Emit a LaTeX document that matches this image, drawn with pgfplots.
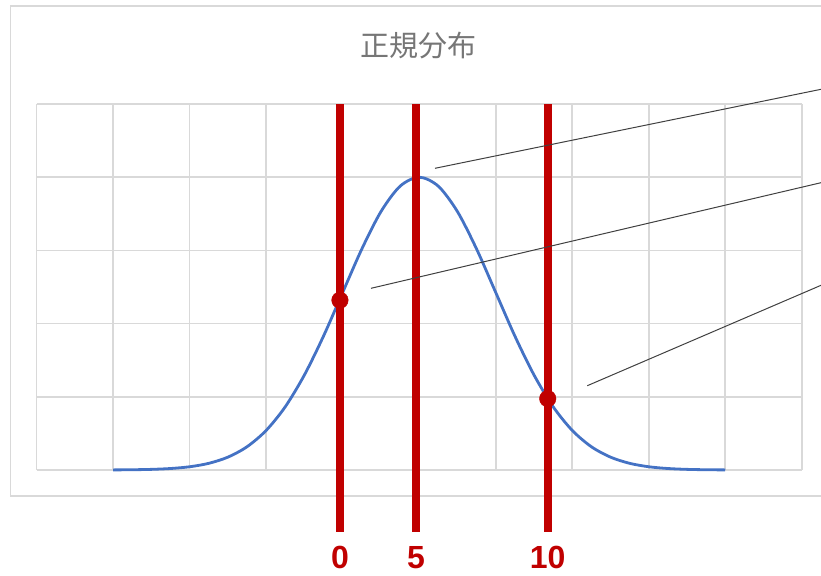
\documentclass[border=0pt]{standalone}
\usepackage{fontspec}
\setmainfont{Liberation Sans}
\newfontfamily\cjk{Noto Sans CJK JP}
\usepackage{pgfplots}
\pgfplotsset{compat=1.18}
\definecolor{gridgray}{RGB}{217,217,217}
\definecolor{curveblue}{RGB}{68,114,196}
\definecolor{darkred}{RGB}{192,0,0}
\definecolor{titlegray}{RGB}{118,118,118}
\definecolor{leader}{RGB}{64,64,64}

\begin{document}
\begin{tikzpicture}[x=1pt,y=1pt]
% page = 821 x 575 px, 1px = 1pt, y downwards negative
\useasboundingbox (0,0) rectangle (821,-575);
\clip (0,0) rectangle (821,-575);
% chart frame
\draw[gridgray, line width=1.5pt] (10.5,-6) rectangle (840,-496);
% title
\node[font=\cjk\fontsize{29}{32}\selectfont, text=titlegray] at (418,-46) {正規分布};

\begin{axis}[
  at={(36.65pt,-470pt)}, anchor=south west,
  scale only axis, width=765.1pt, height=366pt,
  xmin=0, xmax=10, ymin=0, ymax=5,
  xtick={0,1,...,10}, ytick={0,1,...,5},
  xticklabels={}, yticklabels={},
  major tick length=0pt,
  axis line style={draw=none},
  grid=major, major grid style={gridgray, line width=1.6pt},
  clip=false,
]
% normal curve
\addplot[curveblue, line width=2.8pt, smooth] coordinates {
  (1.00,0.00134) (1.25,0.00354) (1.50,0.00875) (1.75,0.0204) (2.00,0.0444)
  (2.25,0.0912) (2.50,0.176) (2.75,0.318) (3.00,0.541) (3.25,0.865)
  (3.50,1.299) (3.75,1.831) (4.00,2.426) (4.25,3.019) (4.50,3.530)
  (4.75,3.877) (5.00,4.000) (5.25,3.877) (5.50,3.530) (5.75,3.019)
  (6.00,2.426) (6.25,1.831) (6.50,1.299) (6.75,0.865) (7.00,0.541)
  (7.25,0.318) (7.50,0.176) (7.75,0.0912) (8.00,0.0444) (8.25,0.0204)
  (8.50,0.00875) (8.75,0.00354) (9.00,0.00134)
};
% red marker lines
\addplot[darkred, line width=8pt] coordinates {(3.964,5) (3.964,-0.843)};
\addplot[darkred, line width=8pt] coordinates {(4.957,5) (4.957,-0.843)};
\addplot[darkred, line width=8pt] coordinates {(6.680,5) (6.680,-0.843)};
% points on the curve
\addplot[only marks, mark=*, mark size=8.3pt, darkred] coordinates {
  (3.964,2.32) (6.680,0.975)
};
% labels under the lines
\node[anchor=base, inner sep=0pt, text=darkred, font=\bfseries\fontsize{32}{34}\selectfont]
  at (axis cs:3.964,-1.340) {0};
\node[anchor=base, inner sep=0pt, text=darkred, font=\bfseries\fontsize{32}{34}\selectfont]
  at (axis cs:4.957,-1.340) {5};
\node[anchor=base, inner sep=0pt, text=darkred, font=\bfseries\fontsize{32}{34}\selectfont]
  at (axis cs:6.680,-1.340) {10};
\end{axis}
% leader lines running off the right edge
\draw[leader, line width=1pt] (435,-168.3) -- (821,-89.3);
\draw[leader, line width=1pt] (371,-288.3) -- (821,-182.7);
\draw[leader, line width=1pt] (587.3,-385.7) -- (821,-285.3);
\end{tikzpicture}
\end{document}
